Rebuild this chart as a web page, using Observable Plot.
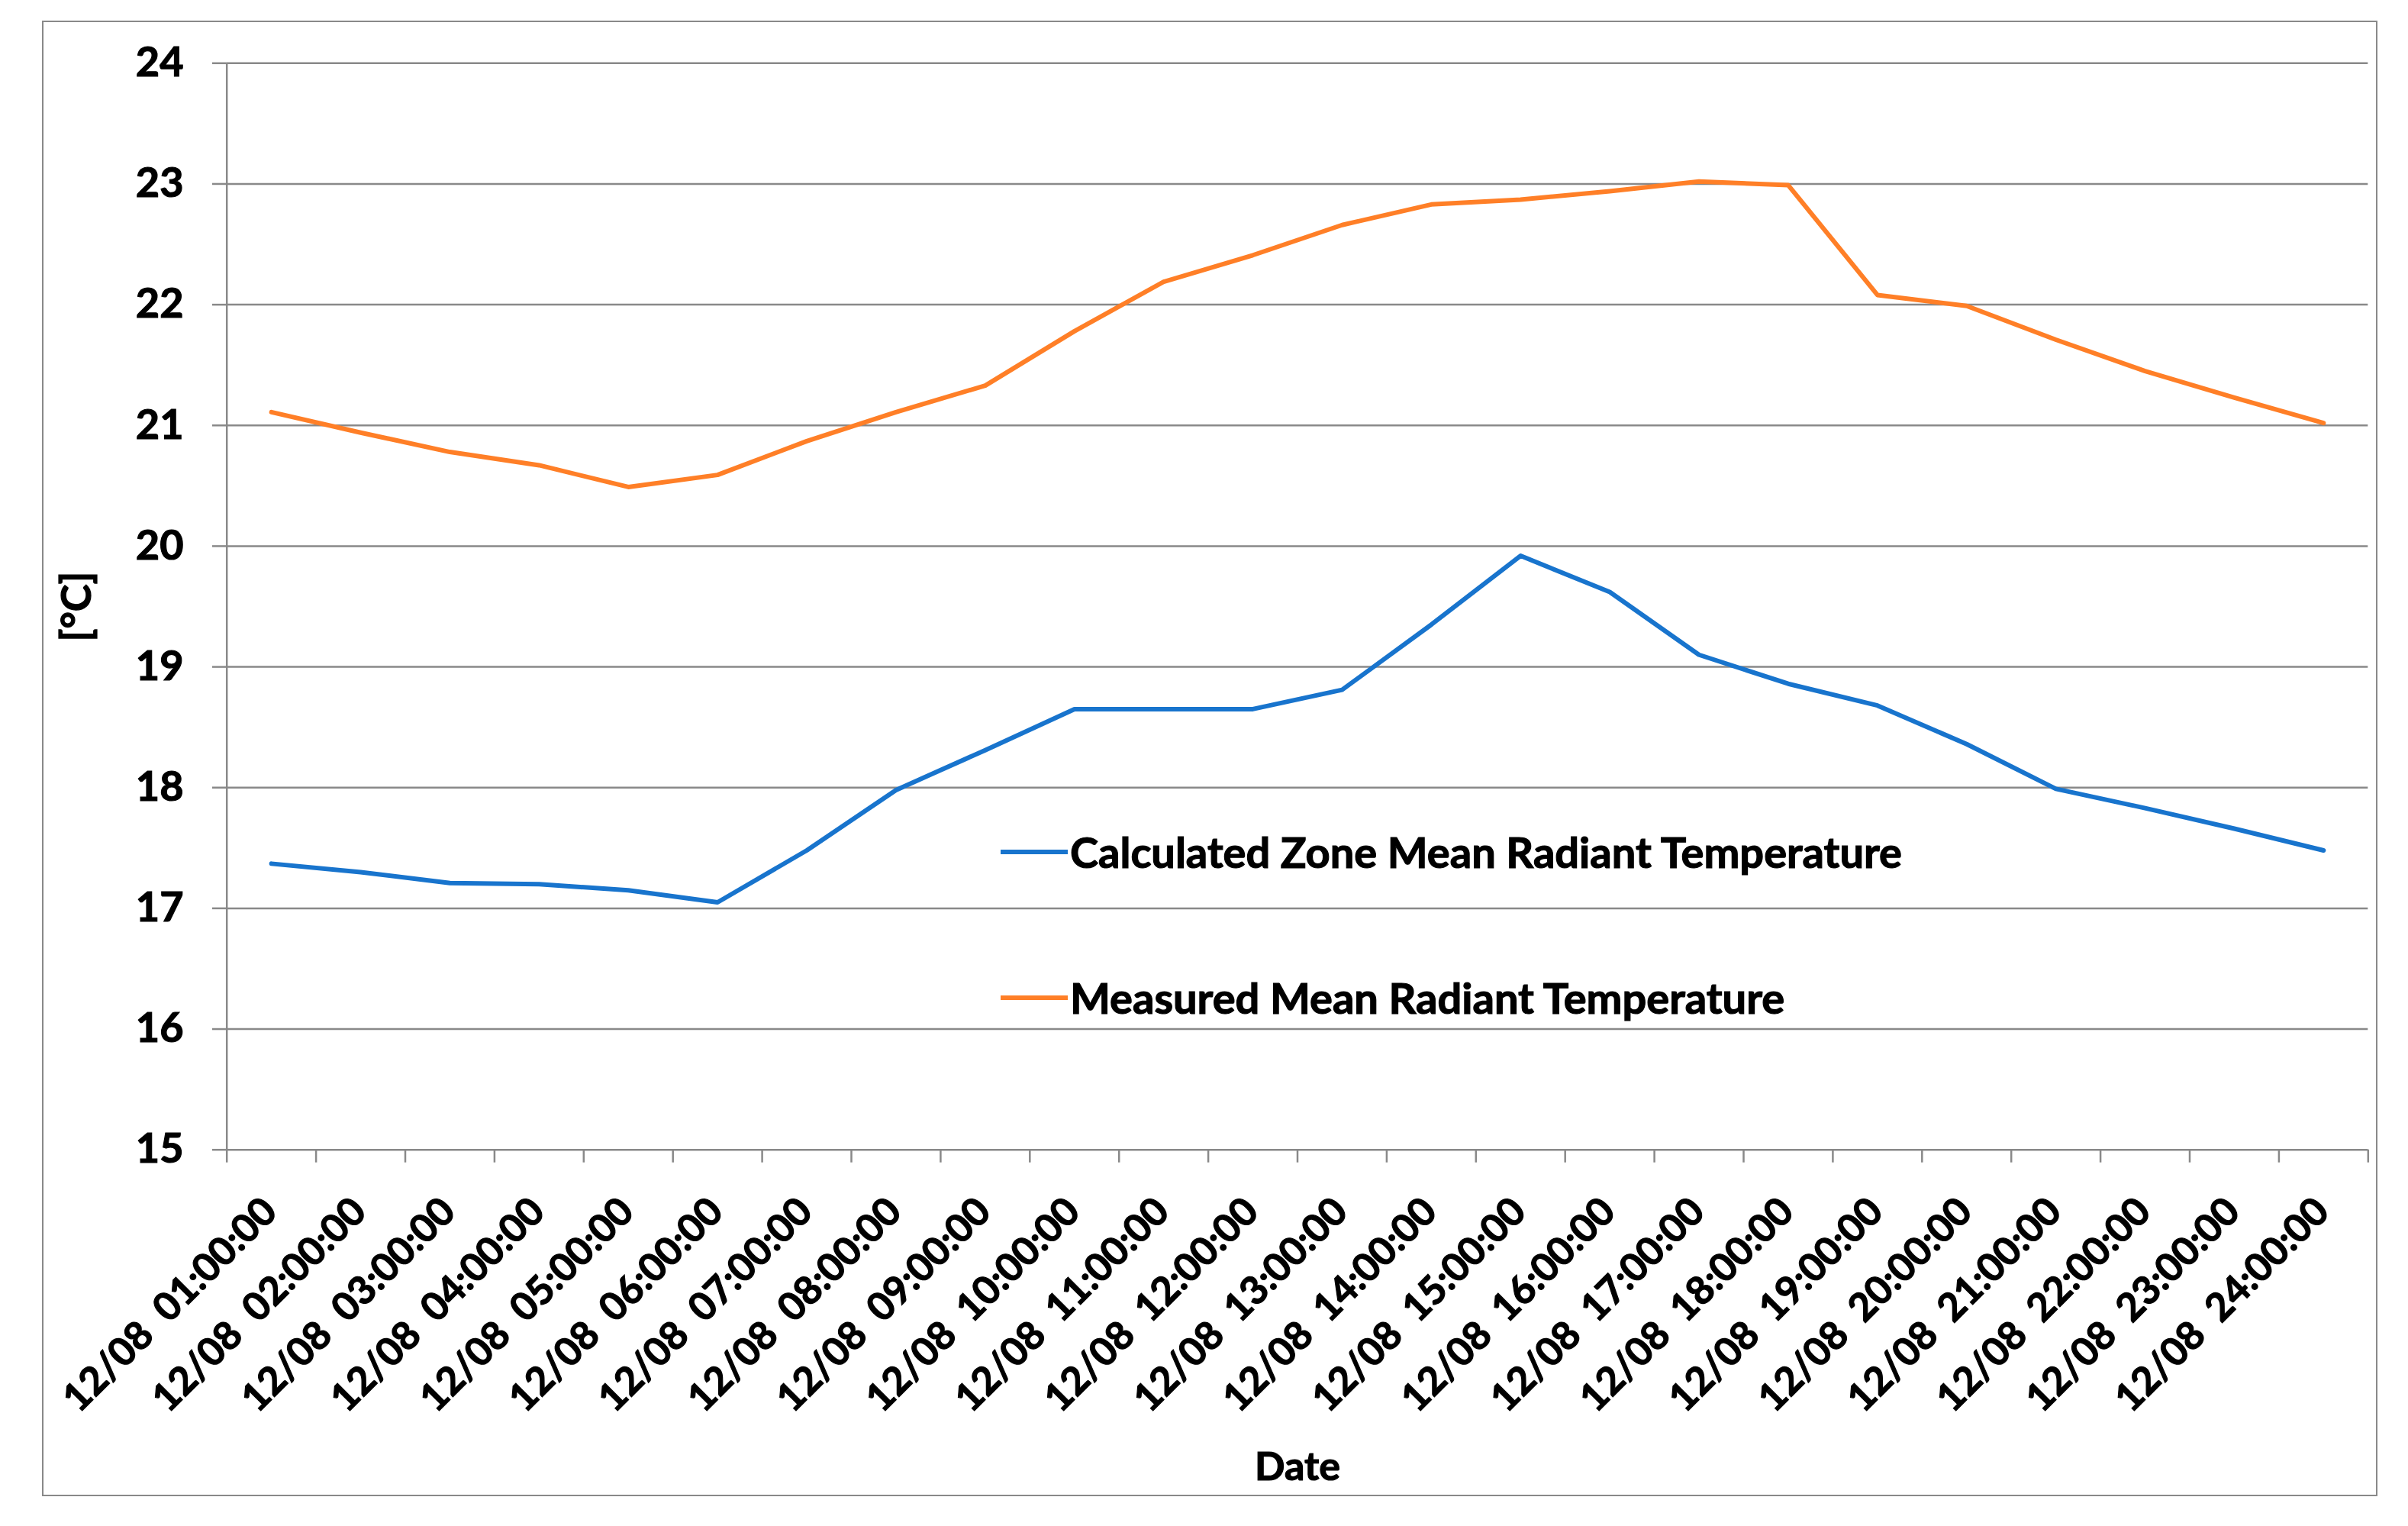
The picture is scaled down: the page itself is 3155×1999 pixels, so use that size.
<!DOCTYPE html>
<html>
<head>
<meta charset="utf-8">
<script src="https://cdn.jsdelivr.net/npm/d3@7"></script>
<script src="https://cdn.jsdelivr.net/npm/@observablehq/plot@0.6"></script>
<style>
  html, body { margin: 0; padding: 0; background: #fff; }
  #wrap { position: relative; width: 3155px; height: 1999px; font-family: Lato, "Open Sans", sans-serif; font-weight: 700; }
  #wrap svg text { white-space: pre; stroke: #000; stroke-width: 1.2px; }
  #border { position: absolute; left: 55px; top: 27px; width: 3060px; height: 1933px; box-sizing: border-box; border: 2.5px solid #898989; pointer-events: none; }
  #legend { position: absolute; left: 1311px; top: 0; }
  .item { position: absolute; left: 0; display: flex; align-items: center; white-space: nowrap; }
  .sw { width: 88px; height: 6px; margin-right: 3px; }
  .lab { font-size: 56px; line-height: 1; color: #000; -webkit-text-stroke: 1.2px #000; }
</style>
</head>
<body>
<div id="wrap"><div id="border"></div><div id="legend"></div></div>
<script>
// ---- data ----
const hours = [
  "12/08  01:00:00","12/08  02:00:00","12/08  03:00:00","12/08  04:00:00",
  "12/08  05:00:00","12/08  06:00:00","12/08  07:00:00","12/08  08:00:00",
  "12/08  09:00:00","12/08  10:00:00","12/08  11:00:00","12/08  12:00:00",
  "12/08  13:00:00","12/08  14:00:00","12/08  15:00:00","12/08  16:00:00",
  "12/08  17:00:00","12/08  18:00:00","12/08  19:00:00","12/08  20:00:00",
  "12/08  21:00:00","12/08  22:00:00","12/08  23:00:00","12/08  24:00:00"
];
const calculated = [17.37,17.30,17.21,17.20,17.15,17.05,17.48,17.98,18.31,18.65,18.65,18.65,
                    18.81,19.35,19.92,19.62,19.10,18.86,18.68,18.36,17.99,17.83,17.66,17.48];
const measured   = [21.11,20.94,20.78,20.67,20.49,20.59,20.87,21.11,21.33,21.78,22.19,22.41,
                    22.66,22.83,22.87,22.94,23.02,22.99,22.08,21.99,21.71,21.45,21.23,21.02];
const yTicks = [15,16,17,18,19,20,21,22,23,24];
const seriesNames = ["Calculated Zone Mean Radiant Temperature", "Measured Mean Radiant Temperature"];
const seriesColors = ["#1874CD", "#FF7F27"];
const xTitle = "Date";
const yTitle = "[°C]";

const GRID = "#898989";
const xIdx = hours.map((_, i) => i + 1);
const bounds = [0, ...xIdx].map(i => i + 0.5);

const chart = Plot.plot({
  width: 3155,
  height: 1999,
  marginLeft: 296.7,
  marginRight: 52.7,
  marginTop: 82.3,
  marginBottom: 493.3,
  style: { fontFamily: "Lato, 'Open Sans', sans-serif", fontWeight: 700, background: "transparent", color: "#000" },
  x: { domain: [0.5, 24.5], axis: null },
  y: { domain: [15, 24], axis: null },
  marks: [
    Plot.ruleY(yTicks, { stroke: GRID, strokeWidth: 2.5 }),
    Plot.ruleX([bounds[0]], { stroke: GRID, strokeWidth: 2.5 }),
    Plot.axisY({ ticks: yTicks, tickSize: 18.7, tickPadding: 38, stroke: GRID, strokeWidth: 2.5,
                 fontSize: 54, label: null, tickFormat: d => String(d) }),
    Plot.axisX({ ticks: bounds, tickSize: 17, tickFormat: () => "", stroke: GRID, strokeWidth: 2.5, label: null }),
    Plot.text(hours, { x: (d, i) => xIdx[i], frameAnchor: "bottom", text: d => d, rotate: -45,
                       textAnchor: "end", lineAnchor: "bottom", dx: 10, dy: 84, fontSize: 51 }),
    Plot.lineY(measured, { x: (d, i) => xIdx[i], y: d => d, stroke: seriesColors[1], strokeWidth: 6 }),
    Plot.lineY(calculated, { x: (d, i) => xIdx[i], y: d => d, stroke: seriesColors[0], strokeWidth: 6 }),
    Plot.text([xTitle], { frameAnchor: "bottom", lineAnchor: "bottom", dy: 433, fontSize: 52 }),
    Plot.text([yTitle], { frameAnchor: "left", rotate: -90, textAnchor: "middle", lineAnchor: "middle", dx: -195, fontSize: 54 })
  ]
});
const wrap = document.getElementById("wrap");
chart.style.position = "absolute";
chart.style.left = "0";
chart.style.top = "0";
wrap.insertBefore(chart, wrap.firstChild);

// legend (inside plot area, as in the reference)
const legend = document.getElementById("legend");
const legendY = [1116, 1307];
seriesNames.forEach((name, i) => {
  const it = document.createElement("div");
  it.className = "item";
  it.style.top = (legendY[i] - 30) + "px";
  it.style.height = "60px";
  const sw = document.createElement("div");
  sw.className = "sw";
  sw.style.background = seriesColors[i];
  const lab = document.createElement("span");
  lab.className = "lab";
  lab.textContent = name;
  it.appendChild(sw);
  it.appendChild(lab);
  legend.appendChild(it);
});
</script>
</body>
</html>
